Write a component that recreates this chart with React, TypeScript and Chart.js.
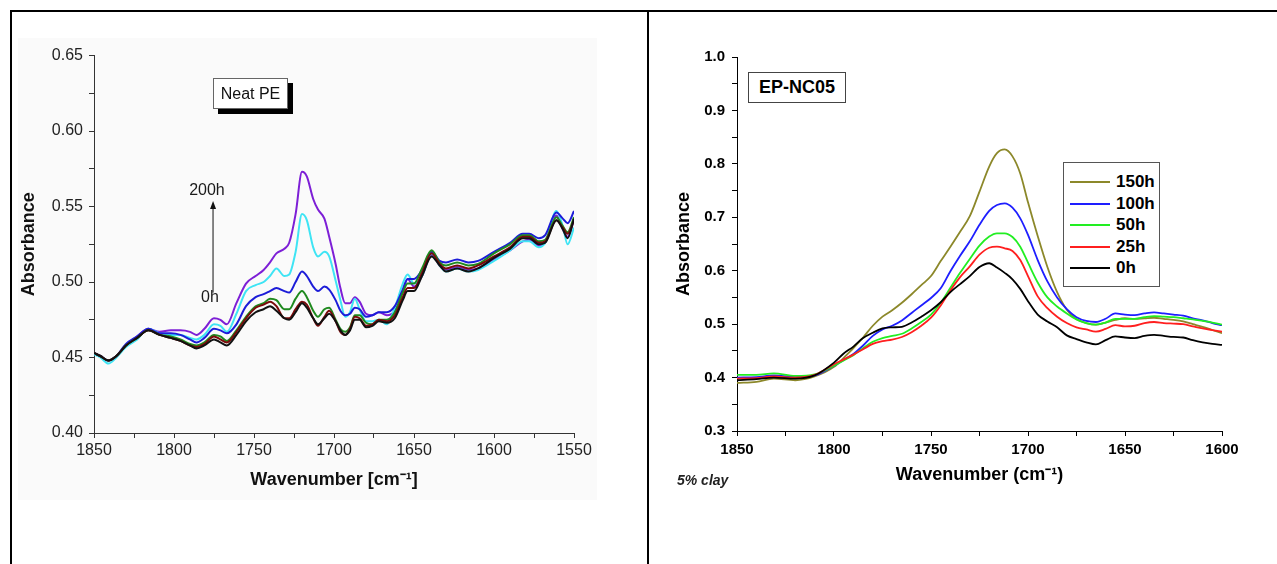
import React, { useEffect, useRef } from "react";
import { Chart, registerables } from "chart.js";

Chart.register(...registerables);
Chart.defaults.font.family = '"Liberation Sans", Arial, sans-serif';

// ---------- Left chart: Neat PE ----------
const PE_WAVENUMBERS = [
  1850, 1846, 1841, 1836, 1830, 1823, 1816, 1809, 1802, 1796, 1790, 1786, 1781, 1775, 1771, 1767,
  1761, 1755, 1749, 1744, 1740, 1736, 1731, 1728, 1724, 1720, 1717, 1713, 1710, 1706, 1703, 1699,
  1696, 1693, 1690, 1687, 1684, 1680, 1676, 1672, 1667, 1662, 1657, 1654, 1650, 1645, 1639, 1634,
  1630, 1623, 1616, 1610, 1600, 1590, 1582, 1578, 1572, 1568, 1561, 1557, 1554, 1550,
];
const PE_0H = [
  0.453, 0.451, 0.448, 0.451, 0.458, 0.463, 0.468, 0.465, 0.463, 0.461, 0.458, 0.456, 0.458, 0.462, 0.46, 0.458,
  0.465, 0.474, 0.48, 0.482, 0.484, 0.481, 0.476, 0.475, 0.48, 0.486, 0.483, 0.476, 0.472, 0.476, 0.479, 0.474,
  0.468, 0.465, 0.468, 0.475, 0.475, 0.47, 0.471, 0.474, 0.473, 0.476, 0.488, 0.494, 0.494, 0.504, 0.517, 0.511,
  0.507, 0.509, 0.507, 0.509, 0.516, 0.522, 0.529, 0.529, 0.525, 0.526, 0.541, 0.535, 0.529, 0.542,
];
const PE_T1 = [
  0.453, 0.451, 0.448, 0.451, 0.458, 0.463, 0.468, 0.465, 0.463, 0.461, 0.458, 0.457, 0.459, 0.464, 0.462, 0.46,
  0.467, 0.476, 0.483, 0.485, 0.487, 0.484, 0.476, 0.476, 0.482, 0.487, 0.485, 0.476, 0.471, 0.477, 0.481, 0.474,
  0.467, 0.465, 0.469, 0.477, 0.476, 0.471, 0.472, 0.475, 0.474, 0.478, 0.49, 0.496, 0.496, 0.506, 0.519, 0.512,
  0.509, 0.511, 0.509, 0.511, 0.517, 0.523, 0.53, 0.53, 0.526, 0.527, 0.541, 0.536, 0.532, 0.541,
];
const PE_T2 = [
  0.453, 0.451, 0.448, 0.451, 0.458, 0.463, 0.468, 0.465, 0.464, 0.462, 0.459, 0.458, 0.46, 0.465, 0.464, 0.461,
  0.468, 0.477, 0.484, 0.486, 0.489, 0.488, 0.482, 0.482, 0.489, 0.494, 0.49, 0.481, 0.477, 0.482, 0.483, 0.475,
  0.469, 0.467, 0.47, 0.478, 0.478, 0.473, 0.472, 0.475, 0.475, 0.48, 0.493, 0.499, 0.499, 0.509, 0.521, 0.513,
  0.511, 0.513, 0.511, 0.512, 0.519, 0.525, 0.531, 0.531, 0.527, 0.528, 0.543, 0.537, 0.533, 0.543,
];
const PE_T3 = [
  0.453, 0.451, 0.448, 0.451, 0.459, 0.464, 0.469, 0.466, 0.466, 0.465, 0.462, 0.46, 0.463, 0.469, 0.468, 0.466,
  0.472, 0.484, 0.49, 0.492, 0.494, 0.496, 0.494, 0.493, 0.5, 0.507, 0.504, 0.497, 0.494, 0.497, 0.495, 0.488,
  0.481, 0.478, 0.479, 0.483, 0.482, 0.477, 0.478, 0.48, 0.48, 0.484, 0.495, 0.502, 0.502, 0.508, 0.52, 0.514,
  0.513, 0.515, 0.513, 0.514, 0.52, 0.526, 0.532, 0.532, 0.529, 0.531, 0.546, 0.542, 0.539, 0.547,
];
const PE_T4 = [
  0.452, 0.45, 0.446, 0.45, 0.457, 0.462, 0.469, 0.466, 0.465, 0.465, 0.463, 0.462, 0.465, 0.472, 0.471, 0.467,
  0.479, 0.494, 0.498, 0.5, 0.504, 0.509, 0.504, 0.505, 0.52, 0.545, 0.541, 0.523, 0.517, 0.52, 0.517, 0.501,
  0.488, 0.477, 0.48, 0.489, 0.482, 0.474, 0.474, 0.475, 0.472, 0.483, 0.499, 0.505, 0.499, 0.504, 0.519, 0.511,
  0.507, 0.509, 0.507, 0.508, 0.514, 0.521, 0.527, 0.527, 0.523, 0.526, 0.547, 0.537, 0.525, 0.536,
];
const PE_200H = [
  0.453, 0.451, 0.448, 0.451, 0.458, 0.464, 0.469, 0.467, 0.468, 0.468, 0.467, 0.465, 0.469, 0.476, 0.475, 0.472,
  0.486, 0.499, 0.504, 0.508, 0.513, 0.519, 0.522, 0.526, 0.545, 0.573, 0.57, 0.555, 0.548, 0.542, 0.53, 0.512,
  0.496, 0.486, 0.486, 0.49, 0.487, 0.479, 0.478, 0.48, 0.478, 0.481, 0.494, 0.502, 0.497, 0.504, 0.518, 0.511,
  0.508, 0.51, 0.508, 0.509, 0.515, 0.521, 0.527, 0.528, 0.524, 0.526, 0.544, 0.535, 0.53, 0.541,
];
const PE_SERIES = [PE_0H, PE_T1, PE_T2, PE_T3, PE_T4, PE_200H];
const PE_LABELS = ["0h", "exposure 2", "exposure 3", "exposure 4", "exposure 5", "200h"];
const PE_COLORS = ["#111111", "#7a0a0a", "#1f8a1f", "#1c1cd8", "#3ee4f4", "#7d1fd6"];
const PE_Y_TICKS = { min: 0.4, max: 0.65, minor: 0.025, major: 0.05 };
const PE_X_TICKS = { min: 1550, max: 1850, minor: 25, major: 50 };
const PE_ARROW = { wn: 1775.6, from: 0.493, to: 0.5537 };
const PE_ARROW_LABELS = [
  { text: "200h", wn: 1779.4, a: 0.5603 },
  { text: "0h", wn: 1777.5, a: 0.4897 },
];

// ---------- Right chart: EP-NC05 ----------
const NC_WAVENUMBERS = [
  1850, 1840, 1831, 1820, 1810, 1800, 1795, 1790, 1785, 1780, 1775, 1770, 1765, 1760, 1755, 1750,
  1745, 1740, 1735, 1730, 1725, 1720, 1716, 1712, 1708, 1704, 1700, 1695, 1690, 1685, 1680, 1675,
  1670, 1665, 1660, 1655, 1650, 1645, 1640, 1635, 1630, 1625, 1620, 1615, 1610, 1605, 1600,
];
const NC_150H = [
  0.39, 0.392, 0.398, 0.395, 0.402, 0.42, 0.437, 0.455, 0.475, 0.497, 0.514, 0.526, 0.54, 0.556, 0.573, 0.59,
  0.618, 0.645, 0.673, 0.702, 0.748, 0.795, 0.82, 0.827, 0.814, 0.782, 0.728, 0.665, 0.607, 0.56, 0.527, 0.509,
  0.502, 0.499, 0.503, 0.508, 0.511, 0.51, 0.511, 0.512, 0.51, 0.508, 0.505, 0.5, 0.495, 0.489, 0.483,
];
const NC_100H = [
  0.4, 0.401, 0.404, 0.401, 0.404, 0.422, 0.433, 0.444, 0.46, 0.478, 0.49, 0.497, 0.507, 0.521, 0.535, 0.549,
  0.567, 0.599, 0.628, 0.655, 0.686, 0.712, 0.723, 0.726, 0.718, 0.698, 0.667, 0.62, 0.58, 0.55, 0.528, 0.513,
  0.506, 0.504, 0.51, 0.52, 0.518, 0.517, 0.52, 0.522, 0.52, 0.518, 0.516, 0.511, 0.507, 0.502, 0.498,
];
const NC_50H = [
  0.405, 0.405, 0.408, 0.403, 0.406, 0.422, 0.432, 0.442, 0.455, 0.467, 0.474, 0.478, 0.482, 0.492, 0.504, 0.518,
  0.54, 0.568, 0.596, 0.622, 0.647, 0.664, 0.67, 0.67, 0.663, 0.645, 0.615, 0.578, 0.55, 0.533, 0.52, 0.509,
  0.502, 0.499, 0.503, 0.51, 0.51, 0.51, 0.513, 0.515, 0.514, 0.513, 0.511, 0.509, 0.506, 0.503, 0.499,
];
const NC_25H = [
  0.398, 0.399, 0.402, 0.4, 0.405, 0.425, 0.434, 0.443, 0.453, 0.463, 0.468, 0.471, 0.476, 0.485, 0.497, 0.512,
  0.535, 0.563, 0.588, 0.608, 0.63, 0.643, 0.645, 0.642, 0.637, 0.62, 0.59, 0.552, 0.53, 0.514, 0.502, 0.494,
  0.49, 0.486, 0.491, 0.498, 0.496, 0.497, 0.502, 0.504, 0.502, 0.501, 0.5, 0.496, 0.492, 0.489, 0.486,
];
const NC_0H = [
  0.395, 0.397, 0.4, 0.398, 0.404, 0.428, 0.445, 0.458, 0.474, 0.484, 0.492, 0.494, 0.495, 0.503, 0.514, 0.526,
  0.541, 0.56, 0.575, 0.59, 0.607, 0.614, 0.606, 0.596, 0.584, 0.566, 0.543, 0.518, 0.505, 0.494, 0.479, 0.472,
  0.466, 0.462, 0.47, 0.477, 0.475, 0.474, 0.478, 0.48, 0.478, 0.476, 0.475, 0.47, 0.466, 0.463, 0.461,
];
const NC_SERIES = [NC_0H, NC_25H, NC_50H, NC_100H, NC_150H];
const NC_LABELS = ["0h", "25h", "50h", "100h", "150h"];
const NC_COLORS = ["#000000", "#ff1f1f", "#22ee22", "#1e1eff", "#8c882a"];
const NC_Y_TICKS = { min: 0.3, max: 1.0, minor: 0.05, major: 0.1 };
const NC_X_TICKS = { min: 1600, max: 1850, minor: 25, major: 50 };

const isMultiple = (v: number, step: number) => Math.abs(v / step - Math.round(v / step)) < 1e-6;

function buildDatasets(wn: number[], series: number[][], labels: string[], colors: string[], width: number) {
  return series.map((vals, i) => ({
    label: labels[i],
    data: vals.map((a, j) => ({ x: wn[j], y: a })),
    borderColor: colors[i],
    backgroundColor: colors[i],
    borderWidth: width,
    pointRadius: 0,
    fill: false,
    cubicInterpolationMode: "monotone" as const,
  }));
}

function axisCommon(color: string) {
  return {
    grid: { display: true, drawOnChartArea: false, drawTicks: true, tickLength: 5, tickColor: color, tickWidth: 1 },
    border: { display: true, color, width: 1 },
  };
}

const arrowPlugin = {
  id: "peArrow",
  afterDatasetsDraw(chart: any) {
    const { ctx, scales } = chart;
    const x = scales.x;
    const y = scales.y;
    const px = x.getPixelForValue(PE_ARROW.wn);
    const yTop = y.getPixelForValue(PE_ARROW.to);
    const yBot = y.getPixelForValue(PE_ARROW.from);
    ctx.save();
    ctx.strokeStyle = "#111";
    ctx.fillStyle = "#111";
    ctx.lineWidth = 1;
    ctx.beginPath();
    ctx.moveTo(px, yBot);
    ctx.lineTo(px, yTop + 6);
    ctx.stroke();
    ctx.beginPath();
    ctx.moveTo(px, yTop);
    ctx.lineTo(px - 3, yTop + 8);
    ctx.lineTo(px + 3, yTop + 8);
    ctx.closePath();
    ctx.fill();
    ctx.font = '16px "Liberation Sans", Arial, sans-serif';
    ctx.textAlign = "center";
    ctx.textBaseline = "middle";
    ctx.fillStyle = "#1a1a1a";
    PE_ARROW_LABELS.forEach((l) => {
      ctx.fillText(l.text, x.getPixelForValue(l.wn), y.getPixelForValue(l.a));
    });
    ctx.restore();
  },
};

function leftConfig(): any {
  const axisColor = "#333";
  return {
    type: "line",
    data: { datasets: buildDatasets(PE_WAVENUMBERS, PE_SERIES, PE_LABELS, PE_COLORS, 2) },
    options: {
      responsive: false,
      animation: false,
      devicePixelRatio: 1,
      layout: { padding: { left: 0, top: 14, right: 24, bottom: 0 } },
      plugins: { legend: { display: false }, tooltip: { enabled: false } },
      scales: {
        x: {
          type: "linear",
          reverse: true,
          min: PE_X_TICKS.min,
          max: PE_X_TICKS.max,
          ...axisCommon(axisColor),
          ticks: {
            stepSize: PE_X_TICKS.minor,
            autoSkip: false,
            maxRotation: 0,
            padding: 3,
            color: "#222",
            font: { size: 16 },
            callback: (v: number) => (isMultiple(v, PE_X_TICKS.major) ? String(Math.round(v)) : ""),
          },
          title: {
            display: true,
            text: "Wavenumber [cm⁻¹]",
            color: "#111",
            font: { size: 18, weight: "bold" },
            padding: { top: 0, bottom: 7 },
          },
          afterFit: (s: any) => {
            s.height = 65;
          },
        },
        y: {
          min: PE_Y_TICKS.min,
          max: PE_Y_TICKS.max,
          ...axisCommon(axisColor),
          ticks: {
            stepSize: PE_Y_TICKS.minor,
            autoSkip: false,
            padding: 6,
            color: "#222",
            font: { size: 16 },
            callback: (v: number) => (isMultiple(v, PE_Y_TICKS.major) ? v.toFixed(2) : ""),
          },
          title: {
            display: true,
            text: "Absorbance",
            color: "#111",
            font: { size: 18, weight: "bold" },
            padding: { top: 0, bottom: 0 },
          },
          afterFit: (s: any) => {
            s.width = 76;
          },
        },
      },
    },
    plugins: [arrowPlugin],
  };
}

function rightConfig(): any {
  const axisColor = "#000";
  return {
    type: "line",
    data: { datasets: buildDatasets(NC_WAVENUMBERS, NC_SERIES, NC_LABELS, NC_COLORS, 1.8) },
    options: {
      responsive: false,
      animation: false,
      devicePixelRatio: 1,
      layout: { padding: { left: 0, top: 27, right: 43, bottom: 0 } },
      plugins: { legend: { display: false }, tooltip: { enabled: false } },
      scales: {
        x: {
          type: "linear",
          reverse: true,
          min: NC_X_TICKS.min,
          max: NC_X_TICKS.max,
          ...axisCommon(axisColor),
          ticks: {
            stepSize: NC_X_TICKS.minor,
            autoSkip: false,
            maxRotation: 0,
            padding: 5,
            color: "#000",
            font: { size: 15, weight: "bold" },
            callback: (v: number) => (isMultiple(v, NC_X_TICKS.major) ? String(Math.round(v)) : ""),
          },
          title: {
            display: true,
            text: "Wavenumber (cm⁻¹)",
            color: "#000",
            font: { size: 18, weight: "bold" },
            padding: { top: 0, bottom: 24 },
          },
          afterFit: (s: any) => {
            s.height = 79;
          },
        },
        y: {
          min: NC_Y_TICKS.min,
          max: NC_Y_TICKS.max,
          ...axisCommon(axisColor),
          ticks: {
            stepSize: NC_Y_TICKS.minor,
            autoSkip: false,
            padding: 7,
            color: "#000",
            font: { size: 15, weight: "bold" },
            callback: (v: number) => (isMultiple(v, NC_Y_TICKS.major) ? v.toFixed(1) : ""),
          },
          title: {
            display: true,
            text: "Absorbance",
            color: "#000",
            font: { size: 18, weight: "bold" },
            padding: { top: 18, bottom: 0 },
          },
          afterFit: (s: any) => {
            s.width = 82;
          },
        },
      },
    },
  };
}

function ChartCanvas(props: { make: () => any; left: number; top: number; width: number; height: number }) {
  const ref = useRef<HTMLCanvasElement | null>(null);
  useEffect(() => {
    if (!ref.current) return;
    const chart = new Chart(ref.current, props.make());
    return () => chart.destroy();
  }, []);
  return (
    <canvas
      ref={ref}
      width={props.width}
      height={props.height}
      style={{ position: "absolute", left: props.left, top: props.top, width: props.width, height: props.height }}
    />
  );
}

export default function App() {
  const font = '"Liberation Sans", Arial, sans-serif';
  const legendRows = NC_LABELS.map((l, i) => ({ label: l, color: NC_COLORS[i] })).reverse();
  return (
    <div
      style={{
        position: "fixed",
        left: 0,
        top: 0,
        width: 1277,
        height: 564,
        background: "#fff",
        overflow: "hidden",
        fontFamily: font,
      }}
    >
      {/* table borders */}
      <div style={{ position: "absolute", left: 10, top: 10, width: 1267, height: 2, background: "#000" }} />
      <div style={{ position: "absolute", left: 10, top: 10, width: 2, height: 554, background: "#000" }} />
      <div style={{ position: "absolute", left: 647, top: 10, width: 2, height: 554, background: "#000" }} />

      {/* left figure background */}
      <div style={{ position: "absolute", left: 18, top: 38, width: 579, height: 462, background: "#fafafa" }} />
      <ChartCanvas make={leftConfig} left={18} top={40} width={580} height={458} />
      <div
        style={{
          position: "absolute",
          left: 213,
          top: 78,
          width: 73,
          height: 29,
          border: "1px solid #666",
          background: "#fff",
          boxShadow: "5px 5px 0 #000",
          fontSize: 16,
          color: "#111",
          display: "flex",
          alignItems: "center",
          justifyContent: "center",
        }}
      >
        Neat PE
      </div>

      {/* right figure */}
      <ChartCanvas make={rightConfig} left={655} top={30} width={610} height={480} />
      <div
        style={{
          position: "absolute",
          left: 748,
          top: 72,
          width: 96,
          height: 29,
          border: "1px solid #444",
          background: "#fff",
          fontSize: 18,
          fontWeight: "bold",
          color: "#000",
          display: "flex",
          alignItems: "center",
          justifyContent: "center",
        }}
      >
        EP-NC05
      </div>
      <div
        style={{
          position: "absolute",
          left: 1063,
          top: 162,
          width: 95,
          height: 123,
          border: "1px solid #555",
          background: "#fff",
        }}
      >
        {legendRows.map((r, i) => (
          <div
            key={r.label}
            style={{
              position: "absolute",
              left: 0,
              top: 19 + i * 21.5 - 11,
              height: 22,
              width: 95,
              display: "flex",
              alignItems: "center",
            }}
          >
            <div style={{ marginLeft: 6, width: 40, height: 2, background: r.color }} />
            <span style={{ marginLeft: 6, fontSize: 17, fontWeight: "bold", color: "#000" }}>{r.label}</span>
          </div>
        ))}
      </div>
      <div
        style={{
          position: "absolute",
          left: 677,
          top: 471,
          fontSize: 14,
          fontWeight: "bold",
          fontStyle: "italic",
          color: "#222",
          lineHeight: "18px",
        }}
      >
        5% clay
      </div>
    </div>
  );
}
